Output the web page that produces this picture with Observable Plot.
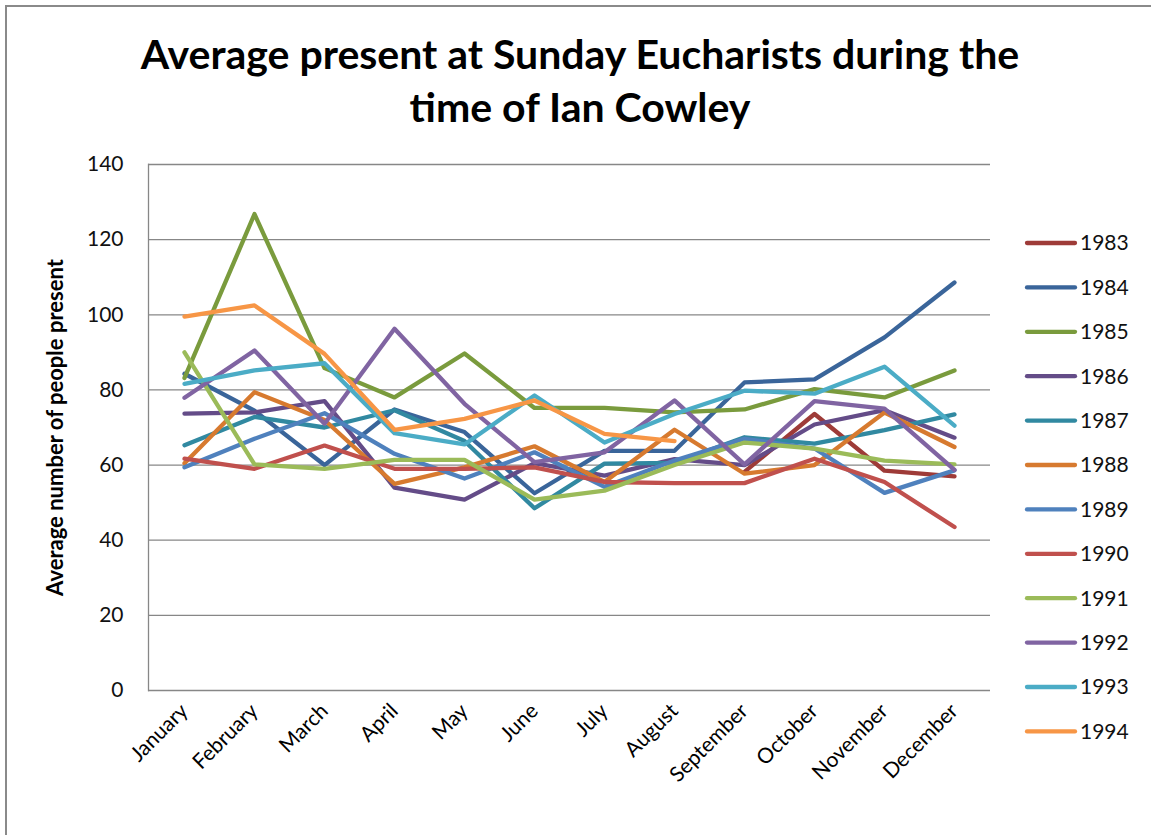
<!DOCTYPE html>
<html><head><meta charset="utf-8">
<script src="https://cdn.jsdelivr.net/npm/d3@7"></script>
<script src="https://cdn.jsdelivr.net/npm/@observablehq/plot@0.6"></script>
<style>
body{margin:0;background:#fff;}
#wrap{position:relative;width:1151px;height:835px;overflow:hidden;font-family:Lato,sans-serif;background:#fff;}
#frame{position:absolute;left:5px;top:5px;width:1200px;height:900px;border-left:2px solid #8a8a8a;border-top:2px solid #8a8a8a;}
#title{position:absolute;left:0;width:1160px;top:27px;text-align:center;font-weight:bold;font-size:41px;line-height:53px;color:#000;}
#chart{position:absolute;left:0;top:0;}
#legend{position:absolute;left:0;top:0;}
</style></head>
<body>
<div id="wrap">
<div id="frame"></div>
<div id="chart"></div>
<svg id="legend" width="1151" height="835"></svg>
<div id="title">Average present at Sunday Eucharists during the<br>time of Ian Cowley</div>
</div>
<script>
const months = ["January","February","March","April","May","June","July","August","September","October","November","December"];
const years = ["1983","1984","1985","1986","1987","1988","1989","1990","1991","1992","1993","1994"];
const colors = ["#9E3B38","#3A659A","#7A9B3D","#644C88","#3189A1","#D77A2F","#4F81BD","#C0504D","#9BBB59","#8064A2","#4BACC6","#F79646"];
const yTicks = [0,20,40,60,80,100,120,140];

const v1983 = [null,null,null,null,null,null,null,null,58.2,73.6,58.5,57];
const v1984 = [84.3,74.5,60,74.8,68.8,52.5,63.8,63.8,82,82.8,94,108.6];
const v1985 = [83.2,126.8,85.8,78,89.7,75.2,75.2,74,74.8,80.2,78,85.2];
const v1986 = [73.7,74,77,54,50.8,60.5,57.2,61.6,60,70.8,74.6,67.3];
const v1987 = [65.3,72.8,70,74.6,66.4,48.5,60.4,60.6,67.4,65.7,69.3,73.5];
const v1988 = [60.5,79.4,72,55,59.4,65,55.5,69.4,57.7,60,74,64.8];
const v1989 = [59.4,67,73.8,63,56.4,63.4,54.2,61.2,67,64.4,52.6,58.6];
const v1990 = [61.7,59,65.2,59,59,59.4,55.5,55.2,55.2,61.7,55.5,43.5];
const v1991 = [90,60.2,59,61.4,61.4,50.8,53.2,60,66,64.4,61.2,60.2];
const v1992 = [77.9,90.5,71,96.3,76.3,60.8,63.4,77.2,60.2,77,75,58.7];
const v1993 = [81.6,85.2,87.1,68.5,65.5,78.5,66,73.6,79.8,79,86.2,70.5];
const v1994 = [99.5,102.5,89.6,69.4,72.3,77.2,68.3,66.4,null,null,null,null];

const series = [v1983,v1984,v1985,v1986,v1987,v1988,v1989,v1990,v1991,v1992,v1993,v1994];
const rows = [];
series.forEach((vals, i) => vals.forEach((v, j) => rows.push({year: years[i], month: months[j], value: v})));

const chart = Plot.plot({
  width: 1151,
  height: 835,
  marginTop: 164,
  marginBottom: 145,
  marginLeft: 148,
  marginRight: 161,
  style: {fontFamily: "Lato, sans-serif", fontSize: "21px", color: "#000", background: "transparent"},
  x: {type: "point", domain: months, padding: 0.5},
  y: {domain: [0, 140]},
  color: {domain: years, range: colors},
  marks: [
    Plot.gridY(yTicks, {stroke: "#878787", strokeOpacity: 1, strokeWidth: 1.3}),
    Plot.frame({anchor: "left", stroke: "#878787", strokeWidth: 1.3}),
    Plot.axisY(yTicks, {tickSize: 0, tickPadding: 25, label: null, fill: "#111", fontSize: 21}),
    Plot.text(["Average number of people present"], {frameAnchor: "left", dx: -93, rotate: -90, textAnchor: "middle", fontWeight: "bold", fontSize: 22, fill: "#000"}),
    Plot.axisX({tickSize: 0, tickPadding: 17, tickRotate: -45, label: null, fill: "#000", fontSize: 21}),
    Plot.line(rows, {x: "month", y: "value", z: "year", stroke: "year", strokeWidth: 4.3, strokeLinejoin: "round", strokeLinecap: "round"})
  ]
});
document.getElementById("chart").appendChild(chart);

const lg = d3.select("#legend");
years.forEach((yr, i) => {
  const cy = 243 + i * 44.4;
  lg.append("line").attr("x1", 1027).attr("x2", 1075).attr("y1", cy).attr("y2", cy)
    .attr("stroke", colors[i]).attr("stroke-width", 4.3).attr("stroke-linecap", "round");
  lg.append("text").attr("x", 1080).attr("y", cy).attr("dy", "0.35em")
    .attr("font-family", "Lato, sans-serif").attr("font-size", 21).attr("fill", "#111").text(yr);
});
</script>
</body></html>
